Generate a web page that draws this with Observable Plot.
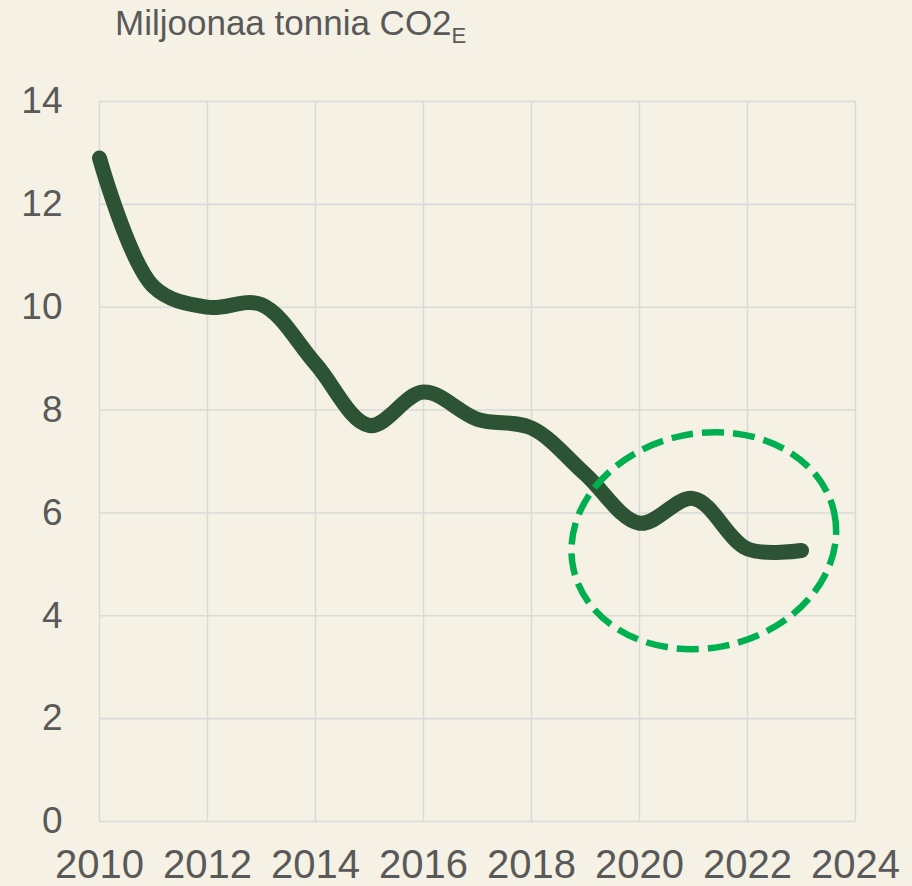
<!DOCTYPE html>
<html>
<head>
<meta charset="utf-8">
<script src="https://cdn.jsdelivr.net/npm/d3@7"></script>
<script src="https://cdn.jsdelivr.net/npm/@observablehq/plot@0.6"></script>
<style>
  html, body { margin: 0; padding: 0; background: #F5F2E5; }
  #wrap { position: relative; width: 912px; height: 886px; background: #F5F2E5; overflow: hidden; }
  #title { position: absolute; left: 115px; top: 3px; font-family: "Liberation Sans", Arial, sans-serif; font-size: 35px; color: #595959; white-space: nowrap; line-height: 40px; }
  #title sub { font-size: 22px; vertical-align: -8px; line-height: 0; }
  #chart { position: absolute; left: 0; top: 0; }
</style>
</head>
<body>
<div id="wrap">
  <div id="chart"></div>
  <div id="title">Miljoonaa tonnia CO2<sub>E</sub></div>
</div>
<script>
// Data
const years = [2010, 2011, 2012, 2013, 2014, 2015, 2016, 2017, 2018, 2019, 2020, 2021, 2022, 2023];
const emissions = [12.9, 10.4, 10.0, 10.05, 8.9, 7.7, 8.35, 7.82, 7.65, 6.75, 5.8, 6.28, 5.3, 5.27];
const xTicks = [2010, 2012, 2014, 2016, 2018, 2020, 2022, 2024];
const yTicks = [0, 2, 4, 6, 8, 10, 12, 14];
// Highlight ellipse annotation (centre in data units, radii in data units, tilt in degrees)
const highlightCenter = [2021.2, 5.45];
const highlightRadii = [2.47, 2.085];
const highlightTilt = -12;

const rows = years.map((year, i) => ({year, value: emissions[i]}));

const ellipseMark = (index, scales) => {
  const sx = scales.x, sy = scales.y;
  const cx = sx(highlightCenter[0]);
  const cy = sy(highlightCenter[1]);
  const rx = Math.abs(sx(highlightCenter[0] + highlightRadii[0]) - cx);
  const ry = Math.abs(sy(highlightCenter[1] + highlightRadii[1]) - cy);
  const el = document.createElementNS("http://www.w3.org/2000/svg", "ellipse");
  el.setAttribute("cx", cx);
  el.setAttribute("cy", cy);
  el.setAttribute("rx", rx);
  el.setAttribute("ry", ry);
  el.setAttribute("transform", `rotate(${highlightTilt} ${cx} ${cy})`);
  el.setAttribute("fill", "none");
  el.setAttribute("stroke", "#00B050");
  el.setAttribute("stroke-width", 6.5);
  el.setAttribute("stroke-dasharray", "22 9");
  return el;
};

const chart = Plot.plot({
  width: 912,
  height: 886,
  marginLeft: 99,
  marginRight: 57,
  marginTop: 101,
  marginBottom: 65,
  style: {background: "#F5F2E5", fontFamily: "'Liberation Sans', Arial, sans-serif", color: "#595959"},
  x: {domain: [2010, 2024], label: null},
  y: {domain: [0, 14], label: null},
  marks: [
    Plot.gridX(xTicks, {stroke: "#D9D9D9", strokeOpacity: 1, strokeWidth: 1.6}),
    Plot.gridY(yTicks, {stroke: "#D9D9D9", strokeOpacity: 1, strokeWidth: 1.6}),
    Plot.axisY(yTicks, {tickSize: 0, tickPadding: 37, fontSize: 37, fill: "#595959", label: null, tickFormat: d => `${d}`}),
    Plot.axisX(xTicks, {tickSize: 0, tickPadding: 28, fontSize: 40, fill: "#595959", label: null, tickFormat: d => `${d}`}),
    Plot.line(rows, {x: "year", y: "value", stroke: "#2C5434", strokeWidth: 15, curve: "catmull-rom", strokeLinecap: "round", strokeLinejoin: "round"}),
    ellipseMark
  ]
});
document.getElementById("chart").appendChild(chart);
</script>
</body>
</html>
